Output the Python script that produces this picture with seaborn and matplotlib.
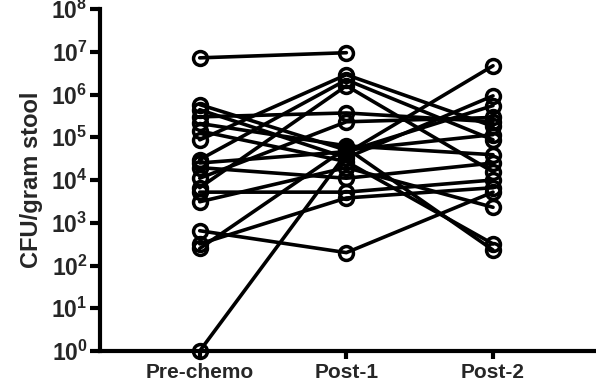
import numpy as np
import pandas as pd
import matplotlib
matplotlib.use("Agg")
import matplotlib.pyplot as plt
import seaborn as sns

timepoints = ["Pre-chemo", "Post-1", "Post-2"]
pre_chemo = [7.2e6, 1.0, 5.8e5, 4.4e5, 3.0e5, 2.1e5, 1.4e5, 8.7e4, 3.0e4, 2.5e4,
             1.95e4, 1.1e4, 6.6e3, 5.2e3, 3.1e3, 6.5e2, 3.2e2, 2.5e2]
post_1 = [9.5e6, 4.2e4, 5.0e4, 3.3e4, 3.7e5, 6.3e4, 2.7e4, 2.9e6, 2.2e6, 4.6e4,
          1.1e4, 2.3e5, 1.6e6, 5.2e3, 1.95e4, 2.0e2, 3.8e3, 5.6e4]
post_2 = [np.nan, 4.7e6, 1.15e5, 9.3e5, 2.3e5, 3.9e4, 3.2e2, 1.8e5, 8.7e4, 5.5e5,
          2.5e4, 2.9e5, 1.55e4, 1.0e4, 2.3e3, 5.2e3, 6.6e3, 2.3e2]
y_exponents = list(range(0, 9))

n = len(pre_chemo)
df = pd.DataFrame({
    "subject": np.repeat(np.arange(n), 3),
    "time": timepoints * n,
    "cfu": np.ravel(np.column_stack([pre_chemo, post_1, post_2])),
})
df = df.dropna()

sns.set_style("white")
plt.rcParams["font.family"] = ["Liberation Sans", "DejaVu Sans"]
plt.rcParams["font.weight"] = "bold"
plt.rcParams["mathtext.fontset"] = "custom"
plt.rcParams["mathtext.rm"] = "Liberation Sans:bold"
plt.rcParams["mathtext.bf"] = "Liberation Sans:bold"

fig = plt.figure(figsize=(5.96, 3.91), dpi=100)
ax = fig.add_axes([100/596, 1 - 351/391, 1 - 100/596 - 0.003, (351 - 9)/391])

sns.lineplot(data=df, x="time", y="cfu", units="subject", estimator=None,
             color="black", linewidth=2.6, marker="o", markersize=10,
             markerfacecolor="none", markeredgecolor="black",
             markeredgewidth=2.5, ax=ax, clip_on=False, legend=False)

ax.set_yscale("log")
ax.set_ylim(1, 1e8)
ax.set_xlim(-0.68, 2.69)
ax.set_yticks([10.0**k for k in y_exponents])
ax.set_yticklabels([r"$\mathbf{10^{%d}}$" % k for k in y_exponents])
ax.yaxis.set_minor_locator(matplotlib.ticker.NullLocator())
ax.set_xticks(range(3))
ax.set_xticklabels(timepoints)

for s in ["top", "right"]:
    ax.spines[s].set_visible(False)
for s in ["left", "bottom"]:
    ax.spines[s].set_linewidth(3.0)
    ax.spines[s].set_color("black")

ax.tick_params(axis="y", length=7, width=3.0, labelsize=16.5, pad=2, left=True, color="black")
ax.tick_params(axis="x", length=6, width=3.0, labelsize=15, pad=3, bottom=True, color="black")
for lbl in ax.get_xticklabels():
    lbl.set_fontweight("bold")

ax.set_xlabel("")
ax.set_ylabel("CFU/gram stool", fontsize=17, fontweight="bold", labelpad=6)

fig.savefig("out.png", dpi=100)
